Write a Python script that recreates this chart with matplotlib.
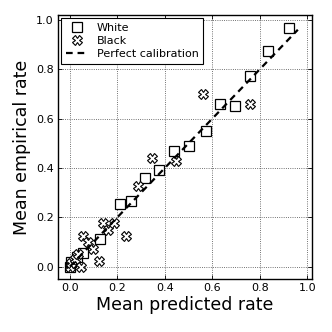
import matplotlib
matplotlib.use("Agg")
import matplotlib.pyplot as plt

# calibration bins
white_pred = [0.0, 0.005, 0.03, 0.057, 0.127, 0.21, 0.256, 0.315, 0.375,
              0.438, 0.50, 0.573, 0.634, 0.697, 0.760, 0.836, 0.923]
white_emp = [0.0, 0.02, 0.04, 0.055, 0.113, 0.254, 0.265, 0.357, 0.393,
             0.470, 0.488, 0.551, 0.657, 0.650, 0.774, 0.873, 0.968]

black_pred = [0.0, 0.005, 0.023, 0.032, 0.046, 0.057, 0.078, 0.095, 0.123,
              0.141, 0.162, 0.186, 0.238, 0.288, 0.347, 0.445, 0.559, 0.760]
black_emp = [0.0, 0.015, 0.03, 0.049, 0.0, 0.123, 0.099, 0.072, 0.024,
             0.177, 0.150, 0.177, 0.123, 0.326, 0.441, 0.427, 0.701, 0.659]

perfect = [0.0, 0.96]

plt.rcParams["font.family"] = "DejaVu Sans"
plt.rcParams["xtick.direction"] = "in"
plt.rcParams["ytick.direction"] = "in"
plt.rcParams["xtick.top"] = True
plt.rcParams["ytick.right"] = True

fig = plt.figure(figsize=(3.32, 3.32), dpi=100)
ax = fig.add_axes([0.175, 0.16, 0.765, 0.795])

ax.plot(white_pred, white_emp, "s", ms=6.5, mfc="white", mec="black",
        mew=0.9, label="White", zorder=3)
ax.plot(black_pred, black_emp, "X", ms=6.5, mfc="white", mec="black",
        mew=0.8, label="Black", zorder=3)
ax.plot(perfect, perfect, "k--", lw=1.6, dashes=(3, 2.2),
        label="Perfect calibration", zorder=4)

ax.set_xlim(-0.05, 1.02)
ax.set_ylim(-0.05, 1.02)
ax.set_xticks([0.0, 0.2, 0.4, 0.6, 0.8, 1.0])
ax.set_yticks([0.0, 0.2, 0.4, 0.6, 0.8, 1.0])
ax.tick_params(labelsize=8, length=3, width=0.6, pad=3)
ax.grid(True, color="#444444", linestyle=":", linewidth=0.6)
for sp in ax.spines.values():
    sp.set_linewidth(1.0)

ax.set_xlabel("Mean predicted rate", fontsize=12.5, labelpad=2)
ax.set_ylabel("Mean empirical rate", fontsize=12.5, labelpad=4)

leg = ax.legend(loc="upper left", fontsize=8, fancybox=False,
                edgecolor="black", framealpha=1.0, borderaxespad=0.3,
                handlelength=2.0, labelspacing=0.3)
leg.get_frame().set_linewidth(0.8)

fig.savefig("out.png", dpi=100)
